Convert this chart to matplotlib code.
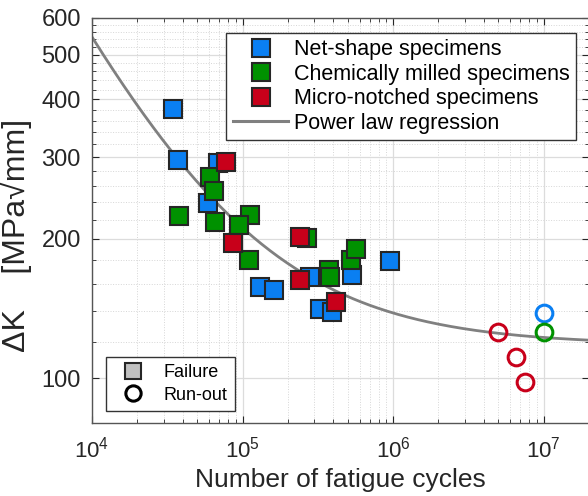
import numpy as np
import matplotlib
matplotlib.use('Agg')
import matplotlib.pyplot as plt
from matplotlib.lines import Line2D
from matplotlib.ticker import FixedLocator, FixedFormatter, NullFormatter, LogLocator

plt.rcParams['font.family'] = ['Liberation Sans', 'DejaVu Sans']
plt.rcParams['mathtext.fontset'] = 'custom'
plt.rcParams['mathtext.rm'] = 'Liberation Sans'
plt.rcParams['mathtext.it'] = 'Liberation Sans:italic'

# failures (cycles, delta K)
net_n = [3.45e4, 3.72e4, 6.85e4, 5.89e4, 1.30e5, 1.61e5, 2.8e5, 3.26e5, 3.9e5, 5.3e5, 9.5e5]
net_k = [381, 296, 291, 239, 157, 155, 165, 141, 139, 167, 179]
chem_n = [6.07e4, 6.45e4, 3.78e4, 6.55e4, 1.12e5, 9.4e4, 1.10e5, 2.67e5, 3.74e5, 3.8e5, 5.24e5, 5.7e5]
chem_k = [272, 254, 224, 218, 225, 214, 180, 201, 171, 165, 180, 190]
notch_n = [7.74e4, 8.6e4, 2.4e5, 2.4e5, 4.16e5]
notch_k = [293, 196, 202, 163, 146]

# run-outs
net_ro_n = [1.0e7]
net_ro_k = [138]
chem_ro_n = [1.0e7]
chem_ro_k = [126]
notch_ro_n = [5.0e6, 6.5e6, 7.5e6]
notch_ro_k = [125.5, 111, 98]

# regression: K = A*(N/1e4)^B + C
A, B, C = 428.0, -0.662, 118.0

BLUE = '#0a7ff2'
GREEN = '#009100'
RED = '#c8001a'
EDGE = '#262626'

fig = plt.figure(figsize=(5.88, 4.96), dpi=100)
ax = fig.add_axes([92/588, 1 - 423/496, 497/588, 405/496])

nfit = np.logspace(4, np.log10(2e7), 300)
ax.plot(nfit, A * (nfit / 1e4) ** B + C, color='#808080', lw=2, zorder=2)

sq = dict(marker='s', ls='none', ms=12.5, mec=EDGE, mew=1.5, zorder=3)
ax.plot(net_n, net_k, mfc=BLUE, **sq)
ax.plot(chem_n, chem_k, mfc=GREEN, **sq)
ax.plot(notch_n, notch_k, mfc=RED, **sq)

ci = dict(marker='o', ls='none', ms=12, mfc='none', mew=2.2, zorder=3)
ax.plot(net_ro_n, net_ro_k, mec=BLUE, **ci)
ax.plot(chem_ro_n, chem_ro_k, mec=GREEN, **ci)
ax.plot(notch_ro_n, notch_ro_k, mec=RED, **ci)

ax.set_xscale('log')
ax.set_yscale('log')
ax.set_xlim(1e4, 2e7)
ax.set_ylim(80, 600)

ax.xaxis.set_major_locator(FixedLocator([1e4, 1e5, 1e6, 1e7]))
ax.xaxis.set_minor_locator(LogLocator(base=10, subs=np.arange(2, 10)))
ax.xaxis.set_minor_formatter(NullFormatter())
yt = [100, 200, 300, 400, 500, 600]
ax.yaxis.set_major_locator(FixedLocator(yt))
ax.yaxis.set_major_formatter(FixedFormatter([str(v) for v in yt]))
ax.yaxis.set_minor_locator(FixedLocator([v for v in range(80, 600, 20) if v not in yt]))
ax.yaxis.set_minor_formatter(NullFormatter())

ax.tick_params(which='both', direction='in', top=True, right=True, colors=EDGE)
ax.tick_params(axis='y', labelsize=17, pad=8)
ax.tick_params(axis='x', labelsize=16, pad=10)
ax.tick_params(which='major', length=5, width=0.8)
ax.tick_params(which='minor', length=3, width=0.6)
for s in ax.spines.values():
    s.set_color('#555555')
    s.set_linewidth(1.0)

ax.grid(True, which='major', color='#dcdcdc', lw=0.9, ls='-', zorder=0)
ax.grid(True, which='minor', color='#d6d6d6', lw=0.7, ls=':', zorder=0)
ax.set_axisbelow(True)

ax.set_xlabel('Number of fatigue cycles', fontsize=19, color=EDGE, labelpad=4)
ax.set_ylabel('\u0394K    [MPa\u221amm]', fontsize=23, color=EDGE)
ax.yaxis.set_label_coords(-0.12, 0.464)

h1 = [Line2D([], [], marker='s', ls='none', ms=12.5, mfc=BLUE, mec=EDGE, mew=1.5),
      Line2D([], [], marker='s', ls='none', ms=12.5, mfc=GREEN, mec=EDGE, mew=1.5),
      Line2D([], [], marker='s', ls='none', ms=12.5, mfc=RED, mec=EDGE, mew=1.5),
      Line2D([], [], color='#808080', lw=2.2)]
l1 = ax.legend(h1, ['Net-shape specimens', 'Chemically milled specimens',
                    'Micro-notched specimens', 'Power law regression'],
               loc='upper right', bbox_to_anchor=(0.974, 0.963), borderaxespad=0,
               fontsize=15.5, fancybox=False, framealpha=1, edgecolor='#333333',
               handlelength=2.6, handletextpad=0.25, labelspacing=0.16,
               borderpad=0.3)
l1.get_frame().set_linewidth(1.0)
ax.add_artist(l1)

h2 = [Line2D([], [], marker='s', ls='none', ms=12, mfc='#c0c0c0', mec=EDGE, mew=1.5),
      Line2D([], [], marker='o', ls='none', ms=11, mfc='none', mec='black', mew=2.2)]
l2 = ax.legend(h2, ['Failure', 'Run-out'], loc='lower left',
               bbox_to_anchor=(0.028, 0.030), borderaxespad=0, fontsize=13,
               fancybox=False, framealpha=1, edgecolor='#333333',
               handlelength=2.2, handletextpad=0.6, labelspacing=0.3, borderpad=0.4)
l2.get_frame().set_linewidth(1.0)

fig.savefig('out.png', dpi=100)
